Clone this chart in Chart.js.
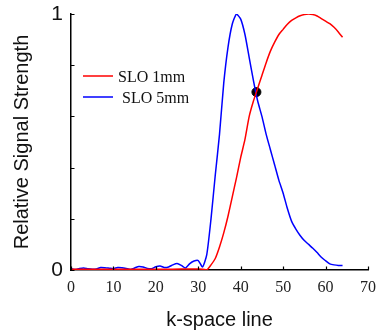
<!DOCTYPE html>
<html lang="en">
<head>
    <meta charset="UTF-8">
    <title>Relative Signal Strength vs k-space line</title>
    <style>
        html, body { margin: 0; padding: 0; background: #fff; }
        #wrap { width: 376px; height: 332px; }
    </style>
</head>
<body>
    <div id="wrap"><canvas id="signalChart" width="376" height="332"></canvas></div>

    <script src="https://cdn.jsdelivr.net/npm/chart.js"></script>
    <script>
        // k-space lines and values
        const redLines = [0, 4, 8, 12, 16, 20, 24, 28, 30, 31, 32, 33, 34, 35, 36, 37, 38, 39, 40, 41, 42, 43, 44, 45, 46, 47, 48, 49, 50, 51, 52, 53, 54, 55, 56, 57, 58, 59, 60, 61, 62, 63, 64];
        const redValues = [0.003, 0.003, 0.003, 0.003, 0.003, 0.003, 0.003, 0.004, 0.004, 0.003, 0.0, 0.02, 0.045, 0.09, 0.145, 0.21, 0.285, 0.36, 0.44, 0.51, 0.6, 0.66, 0.71, 0.76, 0.81, 0.855, 0.89, 0.92, 0.94, 0.96, 0.975, 0.985, 0.993, 0.998, 1.0, 0.998, 0.992, 0.982, 0.972, 0.962, 0.948, 0.93, 0.909];

        const blueLines = [0, 1, 2, 3, 4, 5, 6, 7, 8, 9, 10, 11, 12, 13, 14, 15, 16, 17, 18, 19, 20, 21, 22, 23, 24, 25, 26, 27, 28, 29, 30, 31, 32, 33, 34, 35, 36, 37, 38, 39, 40, 41, 42, 43, 44, 45, 46, 47, 48, 49, 50, 51, 52, 53, 54, 55, 56, 57, 58, 59, 60, 61, 62, 63, 64];
        const blueValues = [0.005, 0.002, 0.006, 0.008, 0.005, 0.003, 0.004, 0.01, 0.009, 0.007, 0.005, 0.01, 0.009, 0.006, 0.002, 0.008, 0.014, 0.012, 0.006, 0.005, 0.013, 0.016, 0.01, 0.012, 0.02, 0.025, 0.018, 0.008, 0.025, 0.035, 0.037, 0.012, 0.06, 0.2, 0.37, 0.53, 0.73, 0.87, 0.96, 1.0, 0.98, 0.92, 0.83, 0.74, 0.66, 0.6, 0.53, 0.47, 0.41, 0.35, 0.3, 0.24, 0.19, 0.16, 0.135, 0.115, 0.1, 0.085, 0.068, 0.05, 0.036, 0.024, 0.02, 0.018, 0.018];

        const crossLine = [43.7];
        const crossValue = [0.695];

        const seriesLabels = ['SLO 1mm', ' SLO 5mm'];
        const xTicks = [0, 10, 20, 30, 40, 50, 60, 70];

        const toPoints = (xs, ys) => xs.map((x, i) => ({x: x, y: ys[i]}));

        const serif = "'Liberation Serif', 'Times New Roman', serif";
        const sans = "'Liberation Sans', Arial, sans-serif";

        // inward tick marks on both axes
        const innerTicks = {
            id: 'innerTicks',
            afterDraw(chart) {
                const ctx = chart.ctx;
                const xs = chart.scales.x, ys = chart.scales.y;
                const left = chart.chartArea.left, bottom = chart.chartArea.bottom;
                ctx.save();
                ctx.strokeStyle = '#000';
                ctx.lineWidth = 1.2;
                ctx.beginPath();
                xs.ticks.forEach(t => {
                    const px = Math.round(xs.getPixelForValue(t.value)) + 0.5;
                    ctx.moveTo(px, bottom);
                    ctx.lineTo(px, bottom - 3.5);
                });
                ys.ticks.forEach(t => {
                    const py = Math.round(ys.getPixelForValue(t.value)) + 0.5;
                    ctx.moveTo(left, py);
                    ctx.lineTo(left + 3.5, py);
                });
                ctx.stroke();
                ctx.restore();
            }
        };

        // legend sitting inside the plot, top left
        const innerLegend = {
            id: 'innerLegend',
            afterDraw(chart) {
                const ctx = chart.ctx;
                const rows = [
                    {y: 76, textX: 118},
                    {y: 97, textX: 118}
                ];
                ctx.save();
                ctx.font = '16px ' + serif;
                ctx.textBaseline = 'middle';
                rows.forEach((r, i) => {
                    const ds = chart.data.datasets[i];
                    ctx.strokeStyle = ds.borderColor;
                    ctx.lineWidth = 1.5;
                    ctx.beginPath();
                    ctx.moveTo(83, r.y);
                    ctx.lineTo(113, r.y);
                    ctx.stroke();
                    ctx.fillStyle = '#111';
                    ctx.fillText(ds.label, r.textX, r.y + 2);
                });
                ctx.restore();
            }
        };

        const ctx = document.getElementById('signalChart').getContext('2d');
        new Chart(ctx, {
            type: 'line',
            data: {
                datasets: [
                    {
                        label: seriesLabels[0],
                        data: toPoints(redLines, redValues),
                        borderColor: '#ff0000',
                        borderWidth: 1.5,
                        pointRadius: 0,
                        tension: 0.2,
                        fill: false
                    },
                    {
                        label: seriesLabels[1],
                        data: toPoints(blueLines, blueValues),
                        borderColor: '#0000ff',
                        borderWidth: 1.5,
                        pointRadius: 0,
                        tension: 0.2,
                        fill: false
                    },
                    {
                        label: 'cross',
                        data: toPoints(crossLine, crossValue),
                        showLine: false,
                        pointRadius: 4.5,
                        pointBackgroundColor: '#000',
                        pointBorderColor: '#000'
                    }
                ]
            },
            options: {
                responsive: false,
                animation: false,
                layout: { padding: { top: 14, right: 8, left: 10, bottom: 0 } },
                plugins: {
                    legend: { display: false },
                    tooltip: { enabled: false }
                },
                scales: {
                    x: {
                        type: 'linear',
                        min: 0,
                        max: 70,
                        afterBuildTicks: s => { s.ticks = xTicks.map(v => ({value: v})); },
                        grid: { display: false, drawTicks: false },
                        border: { display: true, color: '#000', width: 1.5 },
                        ticks: {
                            padding: 8,
                            color: '#222',
                            font: { family: serif, size: 16 },
                            maxRotation: 0
                        },
                        title: {
                            display: true,
                            text: 'k-space line',
                            color: '#111',
                            font: { family: sans, size: 20 },
                            padding: { top: 12, bottom: 0 }
                        },
                        afterFit: s => {
                            s.height = 62;
                            s.paddingLeft = 0;
                            s.paddingRight = 0;
                        }
                    },
                    y: {
                        min: 0,
                        max: 1,
                        ticks: {
                            stepSize: 0.1,
                            padding: 8,
                            color: '#111',
                            font: { family: sans, size: 21 },
                            callback: v => (v === 0 || v === 1) ? String(v) : ''
                        },
                        grid: { display: false, drawTicks: false },
                        border: { display: true, color: '#000', width: 1.5 },
                        title: {
                            display: true,
                            text: 'Relative Signal Strength',
                            color: '#111',
                            font: { family: sans, size: 20 },
                            padding: { top: 0, bottom: 4 }
                        },
                        afterFit: s => {
                            s.width = 61;
                            s.paddingTop = 0;
                            s.paddingBottom = 0;
                        }
                    }
                }
            },
            plugins: [innerTicks, innerLegend]
        });
    </script>
</body>
</html>
